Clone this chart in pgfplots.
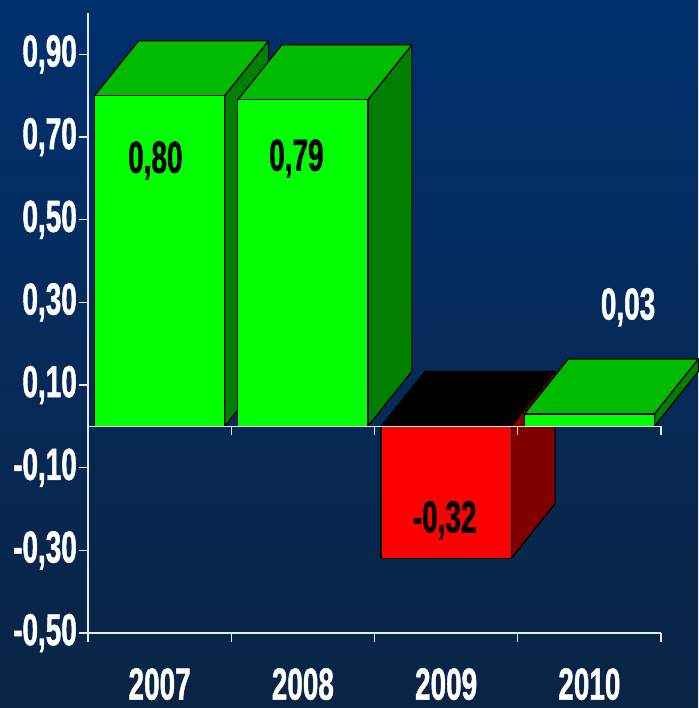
\documentclass[border=0pt]{standalone}
\usepackage{pgfplots}
\pgfplotsset{compat=1.18}
\usepackage{fontspec}
\setmainfont{Liberation Sans}[FakeStretch=0.62, FakeBold=1]
\definecolor{bgtop}{HTML}{00306E}
\definecolor{bgmid}{HTML}{003274}
\definecolor{bgbot}{HTML}{0A2444}
\definecolor{gfront}{HTML}{00FF00}
\definecolor{gtop}{HTML}{00BB00}
\definecolor{gside}{HTML}{007F00}
\definecolor{rfront}{HTML}{FF0000}
\definecolor{rside}{HTML}{800000}
\definecolor{axiswhite}{HTML}{E8E8E8}
\newcommand{\bigfont}{\bfseries\fontsize{45}{50}\selectfont}
\begin{document}
\begin{tikzpicture}
\shade[top color=bgtop, middle color=bgmid, bottom color=bgbot] (0,0) rectangle (698pt,708pt);
\begin{axis}[
  at={(88pt,75pt)}, anchor=south west,
  scale only axis, width=573pt, height=620pt,
  xmin=-0.5, xmax=3.5, ymin=-0.5, ymax=1.0,
  clip=false,
  axis x line*=bottom, axis y line*=left,
  axis line style={axiswhite, line width=1.3pt},
  tick align=outside,
  major tick length=9pt,
  tick style={axiswhite, line width=1.3pt},
  xtick={-0.5,0.5,1.5,2.5,3.5},
  xticklabels={2007,2008,2009,2010},
  x tick label as interval,
  ytick={-0.5,-0.3,-0.1,0.1,0.3,0.5,0.7,0.9},
  tick label style={font=\bigfont, text=white, inner sep=0pt},
  yticklabel style={anchor=east, xshift=-2pt,
    /pgf/number format/.cd, fixed, fixed zerofill, precision=2, use comma, assume math mode=true},
  xticklabel style={anchor=north, yshift=-26pt},
]
% side and top faces (depth offset 0.307 in x, 0.133 in y)
\addplot[fill=gside, draw=black, line width=1.2pt, line join=round] coordinates {(0.454,0) (0.761,0.133) (0.761,0.933) (0.454,0.80)} --cycle;
\addplot[fill=gtop, draw=black, line width=1.2pt, line join=round] coordinates {(-0.454,0.80) (0.454,0.80) (0.761,0.933) (-0.147,0.933)} --cycle;
\addplot[fill=gside, draw=black, line width=1.2pt, line join=round] coordinates {(1.454,0) (1.761,0.133) (1.761,0.923) (1.454,0.79)} --cycle;
\addplot[fill=gtop, draw=black, line width=1.2pt, line join=round] coordinates {(0.546,0.79) (1.454,0.79) (1.761,0.923) (0.853,0.923)} --cycle;
\addplot[fill=rside, draw=black, line width=1.2pt, line join=round] coordinates {(2.454,-0.32) (2.761,-0.187) (2.761,0.133) (2.454,0)} --cycle;
\addplot[fill=black, draw=black, line width=1.2pt, line join=round] coordinates {(1.546,0) (2.454,0) (2.761,0.133) (1.853,0.133)} --cycle;
\addplot[fill=gside, draw=black, line width=1.2pt, line join=round] coordinates {(3.454,0) (3.761,0.133) (3.761,0.163) (3.454,0.03)} --cycle;
\addplot[fill=gtop, draw=black, line width=1.2pt, line join=round] coordinates {(2.546,0.03) (3.454,0.03) (3.761,0.163) (2.853,0.163)} --cycle;
% front faces
\addplot[ybar, bar shift=0pt, bar width=0.908, fill=gfront, draw=black, line width=1.2pt] coordinates {(0,0.80) (1,0.79) (3,0.03)};
\addplot[ybar, bar shift=0pt, bar width=0.908, fill=rfront, draw=black, line width=1.2pt] coordinates {(2,-0.32)};
% zero line with its ticks
\addplot[axiswhite, line width=1.3pt] coordinates {(-0.5,0) (3.5,0)};
\draw[axiswhite, line width=1.3pt] (axis cs:0.5,0) -- (axis cs:0.5,-0.022);
\draw[axiswhite, line width=1.3pt] (axis cs:1.5,0) -- (axis cs:1.5,-0.022);
\draw[axiswhite, line width=1.3pt] (axis cs:2.5,0) -- (axis cs:2.5,-0.022);
\draw[axiswhite, line width=1.3pt] (axis cs:3.5,0) -- (axis cs:3.5,-0.022);
% value labels
\node[font=\bigfont, text=black] at (axis cs:-0.03,0.643) {0,80};
\node[font=\bigfont, text=black] at (axis cs:0.955,0.648) {0,79};
\node[font=\bigfont, text=black] at (axis cs:1.99,-0.227) {-0,32};
\node[font=\bigfont, text=white] at (axis cs:3.27,0.288) {0,03};
\end{axis}
\pgfresetboundingbox
\useasboundingbox (0,0) rectangle (698pt,708pt);
\end{tikzpicture}
\end{document}
